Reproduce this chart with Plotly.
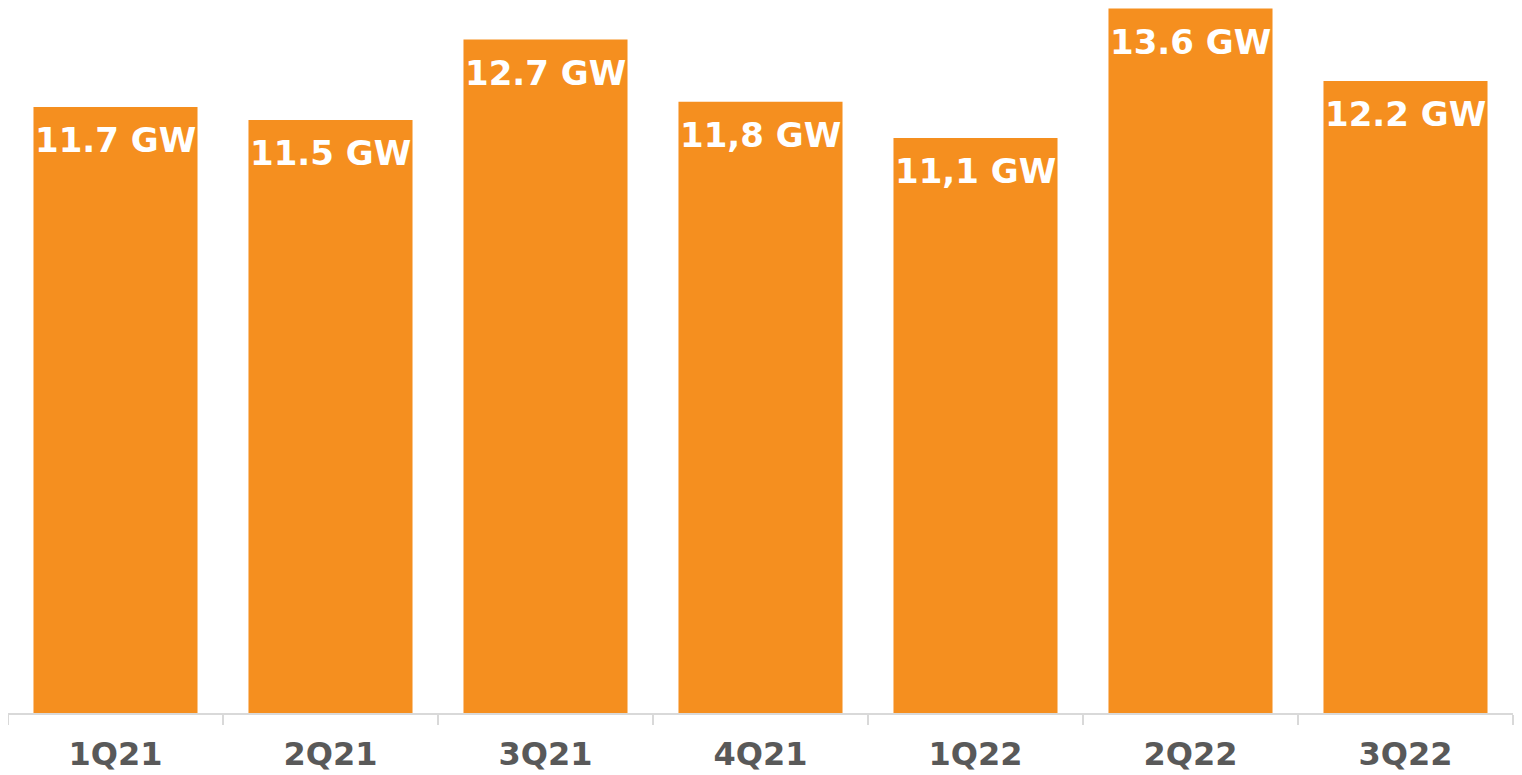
import plotly.graph_objects as go

categories = ["1Q21", "2Q21", "3Q21", "4Q21", "1Q22", "2Q22", "3Q22"]
# bar heights as drawn in the picture (3Q21 is drawn taller than its label)
values = [11.7, 11.45, 13.0, 11.8, 11.1, 13.6, 12.2]
labels = ["11.7 GW", "11.5 GW", "12.7 GW", "11,8 GW", "11,1 GW", "13.6 GW", "12.2 GW"]

BAR_COLOR = "#F58F1F"
FONT = "DejaVu Sans"

fig = go.Figure(
    go.Bar(
        x=categories,
        y=values,
        marker=dict(color=BAR_COLOR, line=dict(width=0)),
        textposition="none",
        hoverinfo="skip",
    )
)

for c, v, t in zip(categories, values, labels):
    fig.add_annotation(
        x=c, y=v, xref="x", yref="y",
        text=t, showarrow=False,
        yanchor="top", yshift=-11,
        font=dict(family=FONT, size=34, color="white", weight="bold"),
    )

fig.update_layout(
    width=1514, height=767,
    margin=dict(l=0, r=9, t=0, b=62),
    paper_bgcolor="white", plot_bgcolor="white",
    bargap=0.237,
    showlegend=False,
)
fig.update_xaxes(
    type="category",
    showline=True, linecolor="#D9D9D9", linewidth=2,
    ticks="outside", tickson="boundaries", ticklen=10, tickcolor="#D9D9D9", tickwidth=2,
    ticklabelstandoff=12,
    tickfont=dict(family=FONT, size=32, color="#595959", weight="bold"),
    showgrid=False,
)
fig.update_yaxes(
    range=[0, 13.61], visible=False, showgrid=False, zeroline=False,
)

fig.write_html("out.html")
